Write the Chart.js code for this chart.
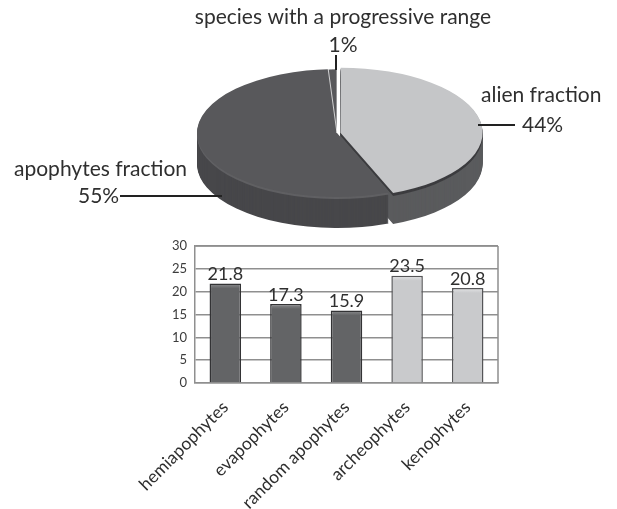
<!DOCTYPE html>
<html><head><meta charset="utf-8">
<style>html,body{margin:0;padding:0;background:#fff;overflow:hidden}
canvas{position:absolute;left:0;top:0}</style>
<script src="https://cdn.jsdelivr.net/npm/chart.js@4"></script></head>
<body><canvas id="pie" width="617" height="509"></canvas><canvas id="bar" width="617" height="509"></canvas>
<script>
const pieCategories=['alien fraction','apophytes fraction','species with a progressive range'];
const pieValues=[44,55,1];
const barCategories=['hemiapophytes','evapophytes','random apophytes','archeophytes','kenophytes'];
const barValues=[21.8,17.3,15.9,23.5,20.8];
const FONT='Lato, "Open Sans", sans-serif';
const CX=337,CY=133,SQ=64/140,DEPTH=31;
const rimColors=['#5a5b5d','#47474a','#47474a'];
const faceColors=['#c5c6c8','#58585b','#58585b'];

function drawArc(ctx,chart,arc,color,dy,border){
  const o=arc.options;
  arc.options=Object.assign({},o,border?{backgroundColor:color}:{backgroundColor:color,borderColor:color,borderWidth:0});
  ctx.save();
  ctx.translate(CX,CY+dy);ctx.scale(1,SQ);ctx.translate(-arc.x,-arc.y);
  arc.draw(ctx);
  ctx.restore();
  arc.options=o;
}
const pie3d={id:'pie3d',
 beforeDatasetsDraw(chart){
  const ctx=chart.ctx,arcs=chart.getDatasetMeta(0).data;
  for(let d=DEPTH;d>=1;d--) drawArc(ctx,chart,arcs[0],d<3?'#77787a':rimColors[0],d);
  for(const i of [2,1]) for(let d=DEPTH;d>=1;d--) drawArc(ctx,chart,arcs[i],d<3?'#606063':rimColors[i],d);
  drawArc(ctx,chart,arcs[1],faceColors[1],0,true);
  drawArc(ctx,chart,arcs[2],faceColors[2],0,true);
  for(let d=3;d>=1;d--) drawArc(ctx,chart,arcs[0],'#3c3c3f',d);
  drawArc(ctx,chart,arcs[0],faceColors[0],0,true);
  return false;
 },
 afterDraw(chart){
  const ctx=chart.ctx;
  ctx.save();
  ctx.strokeStyle='#222';ctx.lineWidth=2;
  [[336,55,336,70],[478,125,515,125],[120,196,222,196]].forEach(l=>{
    ctx.beginPath();ctx.moveTo(l[0],l[1]);ctx.lineTo(l[2],l[3]);ctx.stroke();});
  ctx.fillStyle='#2f2f2f';ctx.textBaseline='middle';ctx.font='21px '+FONT;
  ctx.textAlign='center';
  ctx.fillText(pieCategories[2],343,17);
  ctx.fillText(pieValues[2]+'%',343,45);
  ctx.textAlign='left';
  ctx.fillText(pieCategories[0],481,95);
  ctx.fillText(pieValues[0]+'%',522,125);
  ctx.fillText(pieCategories[1],14,169);
  ctx.fillText(pieValues[1]+'%',78,196);
  ctx.restore();
 }};
new Chart(document.getElementById('pie'),{type:'pie',
 data:{labels:pieCategories,datasets:[{data:pieValues,backgroundColor:faceColors,
   borderColor:'#ffffff',borderWidth:[0,0,1],offset:[14,0,0],radius:140}]},
 options:{responsive:false,animation:false,radius:140,plugins:{legend:{display:false},tooltip:{enabled:false}}},
 plugins:[pie3d]});

const barText={id:'barText',afterDatasetsDraw(chart){
  const ctx=chart.ctx;ctx.save();
  ctx.fillStyle='#2f2f2f';ctx.font='18px '+FONT;ctx.textAlign='center';ctx.textBaseline='bottom';
  chart.getDatasetMeta(0).data.forEach((b,i)=>ctx.fillText(barValues[i].toFixed(1),b.x,b.y));
  ctx.restore();
}};
function barFill(c){
  const dark=c.dataIndex<3;
  const flat=dark?'#636466':'#c9cacc';
  const s=c.chart.scales.y;
  const top=s&&typeof c.raw==='number'?s.getPixelForValue(c.raw):NaN;
  if(!Number.isFinite(top)) return flat;
  const g=c.chart.ctx.createLinearGradient(0,top,0,top+5);
  g.addColorStop(0,dark?'#8d8e90':'#e4e5e6');g.addColorStop(1,flat);
  return g;
}
new Chart(document.getElementById('bar'),{type:'bar',
 data:{labels:barCategories,datasets:[{data:barValues,backgroundColor:barFill,
   borderColor:barCategories.map((_,i)=>i<3?'#333335':'#555557'),borderWidth:1.5,categoryPercentage:0.52,barPercentage:1}]},
 options:{responsive:false,animation:false,
  layout:{padding:{left:165,right:119,top:246,bottom:0}},
  plugins:{legend:{display:false},tooltip:{enabled:false}},
  scales:{
   y:{min:0,max:30,afterFit(s){s.width=30;},
      ticks:{stepSize:5,color:'#3c3c3c',padding:8,font:{family:FONT,size:13}},
      grid:{color:'#8f8f8f',lineWidth:1.5,drawTicks:false},border:{color:'#8f8f8f',width:1.5}},
   x:{afterFit(s){s.height=126;},
      ticks:{minRotation:45,maxRotation:45,autoSkip:false,color:'#2f2f2f',padding:14,font:{family:FONT,size:17.5}},
      grid:{display:true,drawOnChartArea:false,drawTicks:false,color:'#8f8f8f'},border:{color:'#8f8f8f',width:1.5}}
  }},
 plugins:[barText,{id:'frame',afterDatasetsDraw(chart){
   const a=chart.chartArea,ctx=chart.ctx;ctx.save();ctx.strokeStyle='#8f8f8f';ctx.lineWidth=1.5;
   ctx.beginPath();ctx.moveTo(a.right,a.top);ctx.lineTo(a.right,a.bottom);ctx.moveTo(a.left,a.top);ctx.lineTo(a.right,a.top);ctx.stroke();ctx.restore();}}]});
</script></body></html>
